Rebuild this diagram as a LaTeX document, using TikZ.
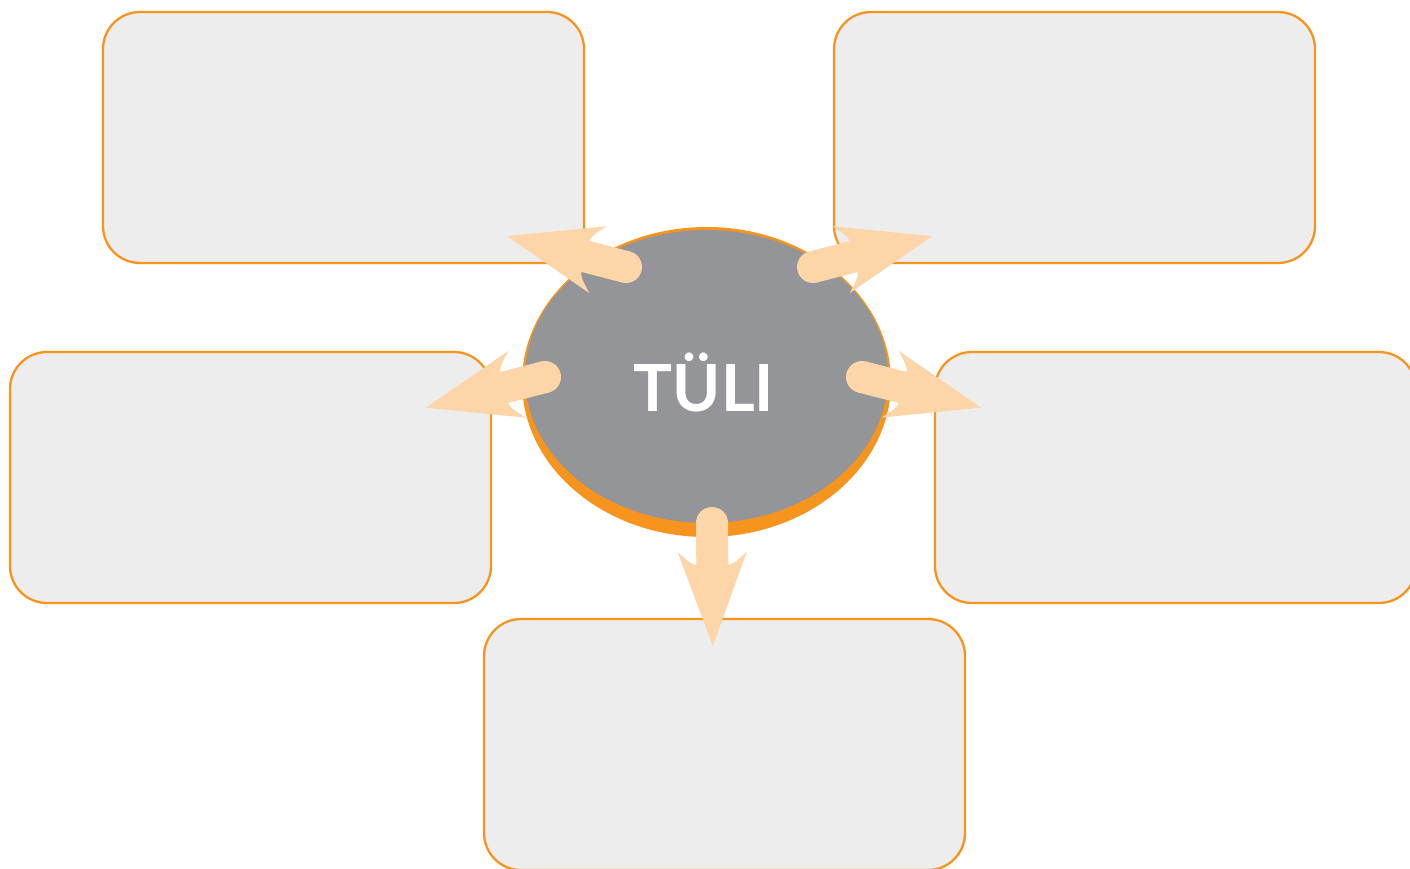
\documentclass[tikz,border=0pt]{standalone}
\usepackage{fontspec}
\newfontfamily\latofont{Lato}
\usetikzlibrary{shapes.geometric}
\definecolor{boxorange}{HTML}{F7941D}
\definecolor{boxfill}{HTML}{EDEDED}
\definecolor{ovalgray}{HTML}{949598}
\definecolor{peach}{HTML}{FDD5A8}
\tikzset{
  infobox/.style={draw=boxorange, line width=2.3pt, fill=boxfill, rounded corners=37pt,
    minimum width=481pt, minimum height=251pt, inner sep=0pt, outer sep=0pt},
  fatarrow/.pic={
    \fill[peach] (0,0) circle[radius=16pt];
    \fill[peach] (0,16) -- (42,16) .. controls (42,21) and (34,29) .. (29,34.5)
      -- (123,0) -- (29,-34.5) .. controls (34,-29) and (42,-21) .. (42,-16)
      -- (0,-16) -- cycle;
  }
}
\begin{document}
\begin{tikzpicture}[x=1pt,y=-1pt]
\useasboundingbox[fill=white] (0,0) rectangle (1410,868);
% boxes
\node[infobox] (bTL) at (343.5,137.5) {};
\node[infobox] (bTR) at (1074.5,137.5) {};
\node[infobox] (bML) at (250.5,477.5) {};
\node[infobox] (bMR) at (1175.5,477.5) {};
\node[infobox] (bB)  at (724.5,744.5) {};
% central oval
\node[ellipse, fill=boxorange, minimum width=369pt, minimum height=310pt, inner sep=0pt] (ring) at (706.5,382) {};
\node[ellipse, fill=ovalgray, minimum width=363pt, minimum height=293pt, inner sep=0pt] (oval) at (706.5,376.5) {};
\node[anchor=base, text=white, font=\latofont\bfseries\fontsize{65}{65}\selectfont, inner sep=0pt] (title) at (704,411) {TÜLI};
% arrow tails
\coordinate (tTL) at (626,267);
\coordinate (tTR) at (813,267);
\coordinate (tML) at (545,377);
\coordinate (tMR) at (862,377);
\coordinate (tB)  at (712,523);
\pic[rotate=165.4] at (tTL) {fatarrow};
\pic[rotate=14.5] at (tTR) {fatarrow};
\pic[rotate=194.5] at (tML) {fatarrow};
\pic[rotate=-14.4] at (tMR) {fatarrow};
\pic[rotate=-89.6] at (tB) {fatarrow};
\end{tikzpicture}
\end{document}
